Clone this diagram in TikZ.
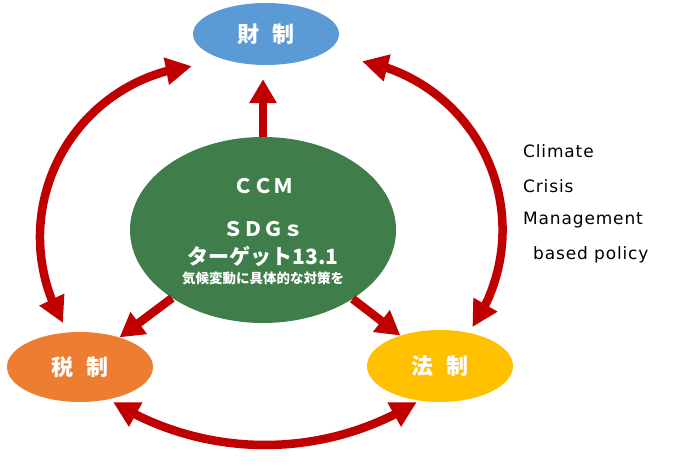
\documentclass[tikz,border=0pt]{standalone}
\usepackage{fontspec}
\usetikzlibrary{arrows.meta,bending,shapes.geometric}
\newfontfamily\jp{Noto Sans CJK JP}
\newfontfamily\en{DejaVu Sans}[LetterSpace=5]
\definecolor{zaiblue}{HTML}{5B9BD5}
\definecolor{zeiorange}{HTML}{ED7D31}
\definecolor{houyellow}{HTML}{FFC000}
\definecolor{ccmgreen}{HTML}{3F7E4A}
\definecolor{arrowred}{HTML}{C00000}
\newcommand{\gapp}{\hspace{0.55em}}
\begin{document}
\begin{tikzpicture}[x=1pt,y=1pt,
  blob/.style={ellipse, inner sep=0pt, text=white, font=\jp\bfseries\fontsize{22}{22}\selectfont},
  redline/.style={draw=arrowred, line width=8.5pt},
  dbl/.style={redline, {Triangle[length=26pt,width=26pt]}-{Triangle[length=26pt,width=26pt]}},
  single/.style={redline, -{Triangle[length=24pt,width=26pt]}},
  gtext/.style={text=white, inner sep=0pt, anchor=center},
  side/.style={anchor=base west, inner sep=0pt, font=\en\fontsize{17}{17}\selectfont, text=black}]
\useasboundingbox (0,0) rectangle (674,468);
% ellipses
\node[blob, fill=zaiblue, minimum width=146pt, minimum height=62pt] (zai) at (266,434) {財\gapp 制};
\node[blob, fill=ccmgreen, minimum width=266pt, minimum height=186pt] (green) at (263,238) {};
\node[blob, fill=zeiorange, minimum width=146pt, minimum height=70pt] (zei) at (80,101) {税\gapp 制};
\node[blob, fill=houyellow, minimum width=146pt, minimum height=72pt] (hou) at (440,102) {法\gapp 制};
% green texts
\node[gtext, font=\jp\bfseries\fontsize{20}{20}\selectfont] (t1) at ([yshift=44pt]green.center) {ＣＣＭ};
\node[gtext, font=\jp\bfseries\fontsize{20}{20}\selectfont] (t2) at ([yshift=1pt]green.center) {ＳＤＧｓ};
\node[gtext, font=\jp\bfseries\fontsize{21}{21}\selectfont] (t3) at ([yshift=-26pt]green.center) {ターゲット13.1};
\node[gtext, font=\jp\bfseries\fontsize{13.5}{13.5}\selectfont] (t4) at ([yshift=-48pt]green.center) {気候変動に具体的な対策を};
% straight arrows
\draw[single, shorten >=14pt] (green.north) -- (green.north |- zai.south);
\draw[single] (green) -- (zei);
\draw[single] (green) -- (hou);
% arcs
\coordinate (la) at (191.9,401.8);
\coordinate (ra) at (472.4,140.9);
\coordinate (ba) at (113,66);
\draw[dbl] (la) arc[start angle=96.7, end angle=210, radius=172];
\draw[dbl] (ra) arc[start angle=-34.5, end angle=79.6, radius=171.5];
\draw[dbl] (ba) arc[start angle=238.4, end angle=301.6, radius=290];
% side text
\node[side] (c1) at (523,310) {Climate};
\node[side] (c2) at (523,275) {Crisis};
\node[side] (c3) at (523,243) {Management};
\node[side] (c4) at (533,208) {based policy};
\end{tikzpicture}
\end{document}
